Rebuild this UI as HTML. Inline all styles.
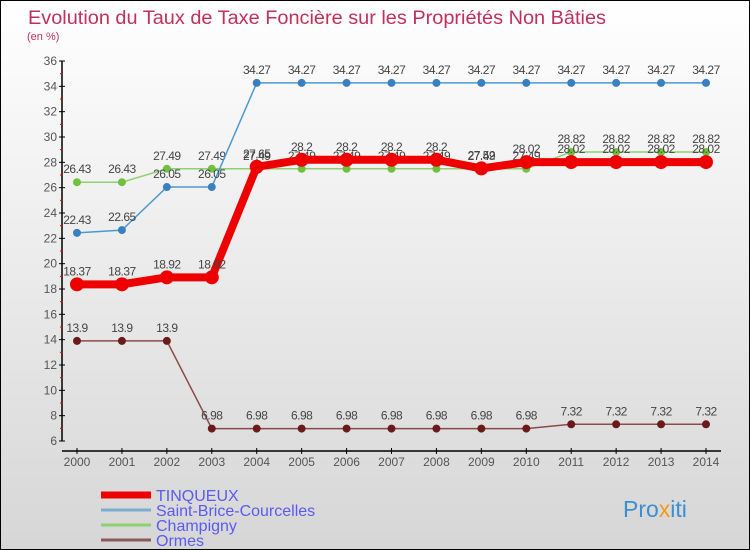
<!DOCTYPE html>
<html><head><meta charset="utf-8"><style>
body{margin:0}
#c{width:750px;height:550px;position:relative;overflow:hidden;font-family:"Liberation Sans",sans-serif;background:linear-gradient(#ffffff,#d6d6d6);border:1px solid #000;box-sizing:border-box}
svg text{font-family:"Liberation Sans",sans-serif}
</style></head><body>
<div id="c">
<svg width="750" height="550" id="s">
<text x="27" y="23" font-size="19" fill="#c0305a" textLength="578" lengthAdjust="spacingAndGlyphs">Evolution du Taux de Taxe Foncière sur les Propriétés Non Bâties</text>
<text x="26" y="39" font-size="11" fill="#c0305a">(en %)</text>
<g id="g"></g>
<text x="622" y="516" font-size="23" fill="#3a8fd0">Pro<tspan fill="#f39a1b">x</tspan>iti</text>
</svg>
</div>
<script>
const years=[2000,2001,2002,2003,2004,2005,2006,2007,2008,2009,2010,2011,2012,2013,2014];
const tinqueux=[18.37,18.37,18.92,18.92,27.65,28.2,28.2,28.2,28.2,27.52,28.02,28.02,28.02,28.02,28.02];
const saintBrice=[22.43,22.65,26.05,26.05,34.27,34.27,34.27,34.27,34.27,34.27,34.27,34.27,34.27,34.27,34.27];
const champigny=[26.43,26.43,27.49,27.49,27.49,27.49,27.49,27.49,27.49,27.49,27.49,28.82,28.82,28.82,28.82];
const ormes=[13.9,13.9,13.9,6.98,6.98,6.98,6.98,6.98,6.98,6.98,6.98,7.32,7.32,7.32,7.32];
const yTicks=[6,8,10,12,14,16,18,20,22,24,26,28,30,32,34,36];
const NS="http://www.w3.org/2000/svg";
const g=document.getElementById('g');
const X=i=>76+i*(705-76)/(years.length-1);
const Y=v=>60+(36-v)*(380/30);
function el(t,a,p){const e=document.createElementNS(NS,t);for(const k in a)e.setAttribute(k,a[k]);(p||g).appendChild(e);return e;}
let ax=el('line',{x1:61,y1:60,x2:61,y2:440,stroke:'#000','stroke-width':1.5});


let bx=el('line',{x1:61,y1:450,x2:720,y2:450,stroke:'#000','stroke-width':1.5});


yTicks.forEach(v=>{
 el('line',{x1:58,x2:64,y1:Y(v),y2:Y(v),stroke:'#000'});
 if(v<36) el('line',{x1:59,x2:62,y1:Y(v+1),y2:Y(v+1),stroke:'#e00'});
 const t=el('text',{x:56,y:Y(v)+4,'font-size':12,fill:'#555','text-anchor':'end'});t.textContent=v;
 
 
});
years.forEach((y,i)=>{
 el('line',{x1:X(i),x2:X(i),y1:447,y2:453,stroke:'#000'});
 const t=el('text',{x:X(i),y:465,'font-size':12,fill:'#555','text-anchor':'middle'});t.textContent=y;
 
 
});
function series(vals,color,w,r,name,dot){
 const p=el('polyline',{points:vals.map((v,i)=>X(i)+','+Y(v)).join(' '),fill:'none',stroke:color,'stroke-width':w,'stroke-linejoin':'round'});
 
 
 vals.forEach((v,i)=>{
  const c=el('circle',{cx:X(i),cy:Y(v),r:r,fill:dot});
  
  
  const t=el('text',{x:X(i),y:Y(v)-9,'font-size':12,fill:'#444','text-anchor':'middle','letter-spacing':'-0.5'});t.textContent=v;
  
  
 });
}
series(ormes,'#8a4a4a',1.5,4,'ormes','#6a1a1a');
series(champigny,'#90d070',1.5,4,'champigny','#70c040');
series(saintBrice,'#4a9ad0',1.5,4,'saint-brice','#3a80c0');
series(tinqueux,'#ee0000',8,7,'tinqueux','#ee0000');
const leg=[['TINQUEUX','#ee0000',7],['Saint-Brice-Courcelles','#7aaed0',3],['Champigny','#90d070',3],['Ormes','#8a5a5a',3]];
leg.forEach((l,i)=>{
 const y=494+i*15;
 const ln=el('line',{x1:100,x2:150,y1:y,y2:y,stroke:l[1],'stroke-width':l[2]});
 
 
 const t=el('text',{x:155,y:y+6,'font-size':16,fill:'#5a5af0'});t.textContent=l[0];
 
 
});
</script>
</body></html>
